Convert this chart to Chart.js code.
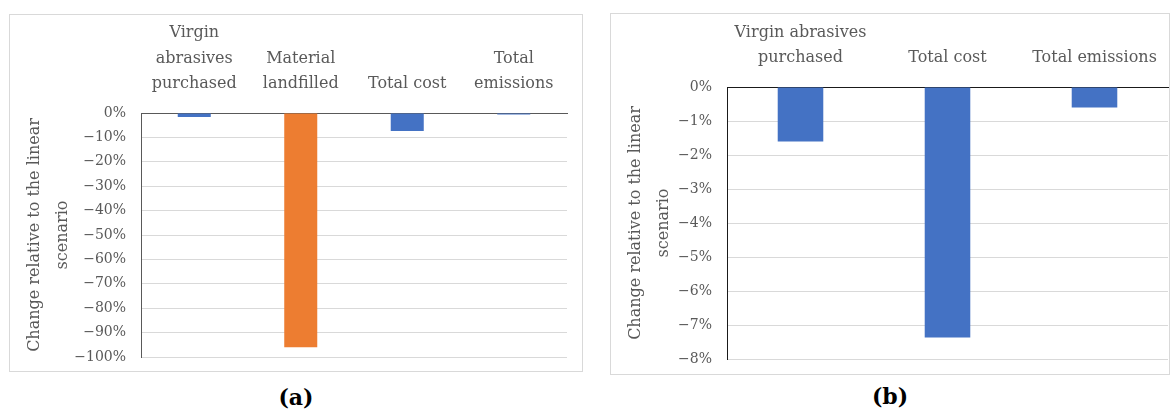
<!DOCTYPE html>
<html>
<head>
<meta charset="utf-8">
<title>Change relative to the linear scenario</title>
<script src="https://cdn.jsdelivr.net/npm/chart.js@4"></script>
<style>
  body { margin: 0; background: #fff; width: 1171px; height: 413px; position: relative; overflow: hidden; }
  .panel { position: absolute; border: 1px solid #d9d9d9; box-sizing: border-box; background: #fff; }
  .panel canvas { display: block; }
  .tag { position: absolute; width: 80px; text-align: center; font: bold 22px "DejaVu Serif", serif; color: #000; line-height: 28px; }
</style>
</head>
<body>

<div class="panel" id="boxA" style="left:9px; top:14px; width:574px; height:358px;">
  <canvas id="chartA" width="572" height="356"></canvas>
</div>
<div class="tag" style="left:256px; top:383px;">(a)</div>

<div class="panel" id="boxB" style="left:610px; top:13px; width:560px; height:362px;">
  <canvas id="chartB" width="558" height="360"></canvas>
</div>
<div class="tag" style="left:850px; top:382px;">(b)</div>

<script>
// categories and values (% change vs. linear scenario)
var categoriasA = [['Virgin', 'abrasives', 'purchased'], ['Material', 'landfilled'], 'Total cost', ['Total', 'emissions']];
var valoresA = [-1.6, -96.0, -7.35, -0.6];
var coloresA = ['#4472c4', '#ed7d31', '#4472c4', '#4472c4'];

var categoriasB = [['Virgin abrasives', 'purchased'], 'Total cost', 'Total emissions'];
var valoresB = [-1.6, -7.37, -0.6];
var coloresB = ['#4472c4', '#4472c4', '#4472c4'];

var tituloY = ['Change relative to the linear', 'scenario'];

var textColor = '#595959';
var gridColor = '#d9d9d9';
var fuente = '"DejaVu Serif", serif';

// tick labels use a real minus sign
function porcentaje(value) {
    if (value === 0) return '0%';
    return (value < 0 ? '\u2212' : '') + Math.abs(value) + '%';
}

function crearGrafica(id, labels, data, colors, opts) {
    var ctx = document.getElementById(id).getContext('2d');
    return new Chart(ctx, {
        type: 'bar',
        data: {
            labels: labels,
            datasets: [{
                data: data,
                backgroundColor: colors,
                borderWidth: 0,
                barPercentage: 0.31,
                categoryPercentage: 1.0
            }]
        },
        options: {
            responsive: false,
            animation: false,
            events: [],
            layout: { padding: opts.padding },
            plugins: {
                legend: { display: false },
                tooltip: { enabled: false }
            },
            scales: {
                x: {
                    position: 'top',
                    grid: { display: false, drawTicks: false },
                    border: { display: true, color: opts.axisColor, width: 1 },
                    ticks: {
                        color: textColor,
                        font: { family: fuente, size: 16, lineHeight: 1.6 },
                        padding: 16,
                        maxRotation: 0,
                        minRotation: 0,
                        autoSkip: false
                    },
                    afterFit: function (scale) {
                        scale.height = opts.top;
                        scale.paddingLeft = 0;
                        scale.paddingRight = 0;
                    }
                },
                y: {
                    min: opts.min,
                    max: 0,
                    grid: {
                        drawTicks: false,
                        // zero line sits on the axis, keep it dark
                        color: function (c) { return c.tick && c.tick.value === 0 ? opts.axisColor : gridColor; }
                    },
                    border: { display: true, color: opts.axisColor, width: 1 },
                    ticks: {
                        stepSize: opts.step,
                        color: textColor,
                        font: { family: fuente, size: 14 },
                        padding: 15,
                        callback: porcentaje
                    },
                    title: {
                        display: true,
                        text: tituloY,
                        color: textColor,
                        font: { family: fuente, size: 16, lineHeight: 1.75 },
                        padding: { top: 11, bottom: 0 }
                    },
                    afterFit: function (scale) {
                        scale.width = opts.left;
                        // plot height is set by the layout padding only
                        scale.paddingTop = 0;
                        scale.paddingBottom = 0;
                    }
                }
            }
        }
    });
}

crearGrafica('chartA', categoriasA, valoresA, coloresA, {
    min: -100, step: 10, left: 131, top: 98,
    padding: { left: 0, right: 15, top: 0, bottom: 14 },
    axisColor: '#595959'
});

crearGrafica('chartB', categoriasB, valoresB, coloresB, {
    min: -8, step: 1, left: 116, top: 73,
    padding: { left: 0, right: 1, top: 0, bottom: 15 },
    axisColor: '#1a1a1a'
});
</script>
</body>
</html>
